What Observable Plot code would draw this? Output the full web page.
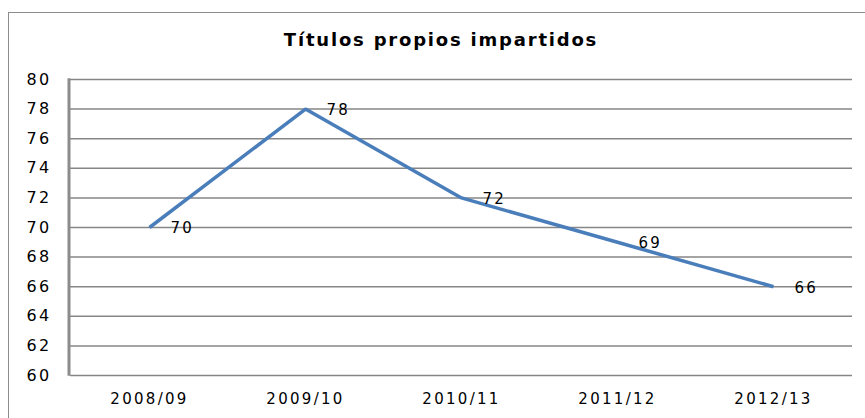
<!DOCTYPE html>
<html>
<head>
<meta charset="utf-8">
<script src="https://cdn.jsdelivr.net/npm/d3@7"></script>
<script src="https://cdn.jsdelivr.net/npm/@observablehq/plot@0.6"></script>
<style>
  html, body { margin: 0; padding: 0; background: #fff; overflow: hidden; }
  #wrap { position: relative; width: 865px; height: 418px; }
  #frame { position: absolute; left: 8px; top: 12px; width: 900px; height: 500px; border: 1.5px solid #8c8c8c; box-sizing: border-box; pointer-events: none; }
  #title { position: absolute; left: 0; width: 882px; top: 29px; text-align: center; font-family: "DejaVu Sans", sans-serif; font-weight: 700; font-size: 18px; letter-spacing: 1.8px; color: #000; }
  #chart { position: absolute; left: 0; top: 0; }
</style>
</head>
<body>
<div id="wrap">
  <div id="chart"></div>
  <div id="frame"></div>
  <div id="title">Títulos propios impartidos</div>
</div>
<script>
const categories = ["2008/09", "2009/10", "2010/11", "2011/12", "2012/13"];
const values = [70, 78, 72, 69, 66];
const yTicks = [60, 62, 64, 66, 68, 70, 72, 74, 76, 78, 80];

const data = categories.map((c, i) => ({ cat: c, v: values[i] }));

const font = "'DejaVu Sans', Verdana, sans-serif";

const chart = Plot.plot({
  width: 865,
  height: 418,
  marginLeft: 70,
  marginRight: 13,
  marginTop: 79,
  marginBottom: 43,
  style: { fontFamily: font, fontSize: "15px", color: "#000", background: "transparent", letterSpacing: "2.3px" },
  x: { type: "point", domain: categories, padding: 0.5, label: null },
  y: { domain: [60, 80], label: null },
  marks: [
    Plot.gridY(yTicks, { stroke: "#868686", strokeOpacity: 1, strokeWidth: 1.5 }),
    Plot.axisY(yTicks, { tickSize: 0, tickPadding: 19, fontSize: 16, tickFormat: d => String(d) }),
    Plot.axisX(categories, { tickSize: 0, tickPadding: 18, fontSize: 15 }),
    Plot.line(data, { x: "cat", y: "v", stroke: "#4A7EBB", strokeWidth: 3.5, strokeLinejoin: "miter", strokeLinecap: "butt" }),
    Plot.text(data, { x: "cat", y: "v", text: d => String(d.v), textAnchor: "start", dx: 21, dy: 1, fontSize: 15, fill: "#000" })
  ]
});

document.getElementById("chart").appendChild(chart);

// vertical axis line along the left edge of the plotting area, from the scales
const ys = chart.scale("y");
const xs = chart.scale("x");
const leftX = xs.range[0];
d3.select(chart).append("line")
  .attr("x1", leftX - 1).attr("x2", leftX - 1)
  .attr("y1", ys.range[0] + 0.75).attr("y2", ys.range[1] - 0.75)
  .attr("stroke", "#8c8c8c").attr("stroke-width", 3);
</script>
</body>
</html>
